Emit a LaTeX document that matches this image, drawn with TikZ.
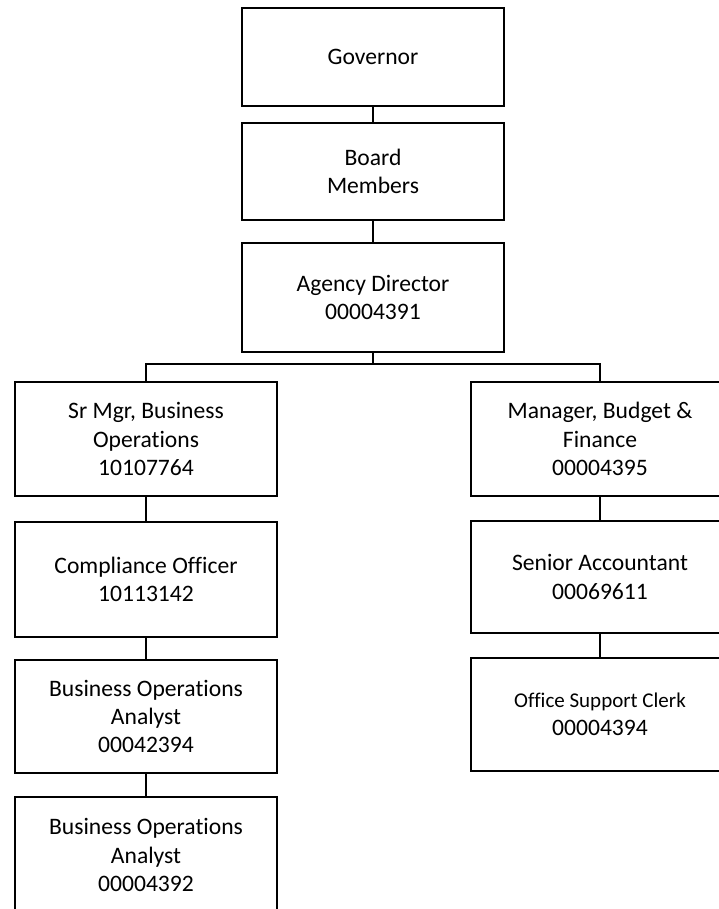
\documentclass[tikz,border=0pt]{standalone}
\usepackage{fontspec}
\setmainfont{Carlito}[Ligatures=NoCommon]
\begin{document}
\begin{tikzpicture}[x=1pt,y=-1pt,
  orgbox/.style={draw=black, line width=2.1pt, minimum width=262pt, align=center, inner sep=0pt,
    font=\fontsize{23.6}{28.3}\selectfont},
  link/.style={draw=black, line width=1.6pt}]
\useasboundingbox (0,0) rectangle (719,909);
\clip (0,0) rectangle (719,909);
\node[orgbox, minimum height=98pt] (gov) at (373,57) {Governor};
\node[orgbox, minimum height=97pt] (board) at (373,171.5) {Board\\Members};
\node[orgbox, minimum height=109pt] (dir) at (373,297.5) {Agency Director\\00004391};
\node[orgbox, minimum height=114pt] (srmgr) at (146,439) {Sr Mgr, Business\\Operations\\10107764};
\node[orgbox, minimum height=115pt] (comp) at (146,579.5) {Compliance Officer\\10113142};
\node[orgbox, minimum height=113pt] (boa1) at (146,716.5) {Business Operations\\Analyst\\00042394};
\node[orgbox, minimum height=116pt] (boa2) at (146,855) {Business Operations\\Analyst\\00004392};
\node[orgbox, minimum width=258pt, minimum height=114pt] (mgr) at (600,439) {Manager, Budget \&\\Finance\\00004395};
\node[orgbox, minimum width=258pt, minimum height=112pt] (sacc) at (600,577) {Senior Accountant\\00069611};
\node[orgbox, minimum width=258pt, minimum height=113pt] (clerk) at (600,714.5) {{\fontsize{21}{28.3}\selectfont Office Support Clerk}\\00004394};
\coordinate (bar) at (0,364);
\draw[link] (gov.south) -- (board.north);
\draw[link] (board.south) -- (dir.north);
\draw[link] (dir.south) -- (dir.south |- bar);
\draw[link] (srmgr.north) |- (mgr.north |- bar) -- (mgr.north);
\draw[link] (srmgr.south) -- (comp.north);
\draw[link] (comp.south) -- (boa1.north);
\draw[link] (boa1.south) -- (boa2.north);
\draw[link] (mgr.south) -- (sacc.north);
\draw[link] (sacc.south) -- (clerk.north);
\end{tikzpicture}
\end{document}
